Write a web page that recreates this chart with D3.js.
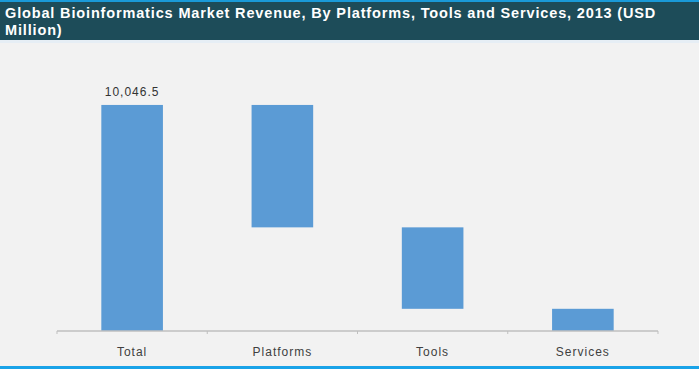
<!DOCTYPE html>
<html>
<head>
<meta charset="utf-8">
<script src="https://cdn.jsdelivr.net/npm/d3@7"></script>
<style>
  html, body { margin: 0; padding: 0; background: #f2f2f2; }
  svg { display: block; }
</style>
</head>
<body>
<svg id="chart" width="699" height="369"></svg>
<script>
// Waterfall: total revenue broken down into its three segments (USD million)
const categories = ["Total", "Platforms", "Tools", "Services"];
const values = [10046.5, 5440.2, 3620.1, 986.2];
const totalLabel = "10,046.5";
const titleLines = [
  "Global Bioinformatics Market Revenue, By Platforms, Tools and Services, 2013 (USD",
  "Million)"
];

const W = 699, H = 369;
const svg = d3.select("#chart");

// page background
svg.append("rect").attr("width", W).attr("height", H).attr("fill", "#f2f2f2");

// title band
svg.append("rect").attr("x", 0).attr("y", 0).attr("width", W).attr("height", 40).attr("fill", "#1d4c59");
svg.append("rect").attr("x", 0).attr("y", 0).attr("width", W).attr("height", 2).attr("fill", "#1a9ad8");
svg.append("rect").attr("x", 0).attr("y", 40).attr("width", W).attr("height", 3).attr("fill", "#e6eef5");
svg.append("rect").attr("x", 0).attr("y", 366).attr("width", W).attr("height", 3).attr("fill", "#1aa3e8");

svg.append("g").selectAll("text").data(titleLines).join("text")
  .attr("x", 5)
  .attr("y", (d, i) => 18 + i * 17)
  .attr("fill", "#ffffff")
  .attr("font-family", "Liberation Sans, Arial, sans-serif")
  .attr("font-weight", "bold")
  .attr("font-size", 14.5)
  .attr("letter-spacing", 0.85)
  .text(d => d);

// waterfall segments: each step hangs from the running remainder
let remaining = values[0];
const segs = categories.map((c, i) => {
  if (i === 0) return { cat: c, y0: 0, y1: values[0] };
  const top = remaining;
  remaining -= values[i];
  return { cat: c, y0: top - values[i], y1: top };
});

const x = d3.scaleBand().domain(categories).range([57, 658]).paddingInner(0.59).paddingOuter(0.295);
const y = d3.scaleLinear().domain([0, 12000]).range([331, 61]);

const bars = svg.append("g");
bars.selectAll("rect").data(segs).join("rect")
  .attr("x", d => x(d.cat))
  .attr("width", x.bandwidth())
  .attr("y", d => y(d.y1))
  .attr("height", d => y(d.y0) - y(d.y1))
  .attr("fill", "#5b9bd5");

// label above the total bar
svg.append("text")
  .attr("x", x("Total") + x.bandwidth() / 2)
  .attr("y", y(values[0]) - 9)
  .attr("text-anchor", "middle")
  .attr("font-family", "Liberation Sans, Arial, sans-serif")
  .attr("font-size", 12)
  .attr("letter-spacing", 1)
  .attr("fill", "#333")
  .text(totalLabel);

// category axis with ticks between bands
const axisG = svg.append("g").attr("transform", "translate(0,331)");
axisG.append("line").attr("x1", 57).attr("x2", 658).attr("y1", 0).attr("y2", 0)
  .attr("stroke", "#bfbfbf").attr("stroke-width", 1.5);
const tickXs = d3.range(categories.length + 1).map(i => 57 + i * (658 - 57) / categories.length);
axisG.selectAll("line.tick").data(tickXs).join("line").attr("class", "tick")
  .attr("x1", d => d).attr("x2", d => d).attr("y1", 0).attr("y2", 3)
  .attr("stroke", "#bfbfbf");
axisG.selectAll("text").data(categories).join("text")
  .attr("x", d => x(d) + x.bandwidth() / 2)
  .attr("y", 25)
  .attr("text-anchor", "middle")
  .attr("font-family", "Liberation Sans, Arial, sans-serif")
  .attr("font-size", 12)
  .attr("letter-spacing", 1)
  .attr("fill", "#404040")
  .text(d => d);
</script>
</body>
</html>
